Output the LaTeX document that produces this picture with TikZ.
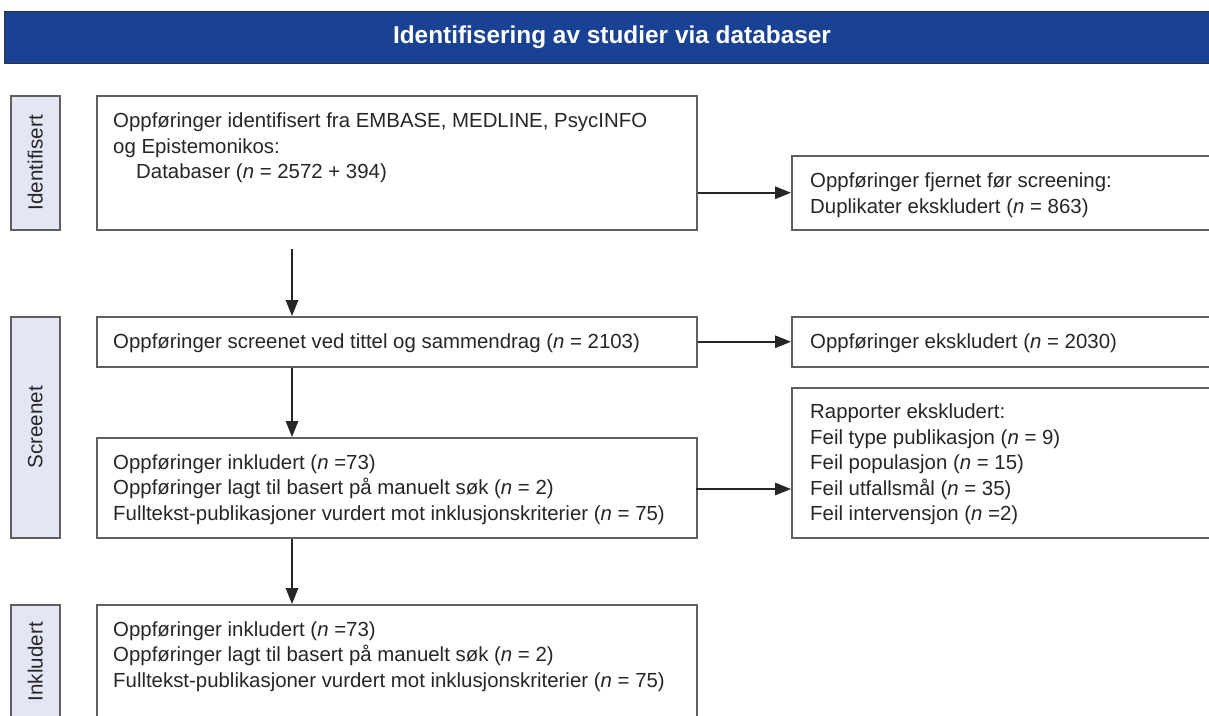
\documentclass[tikz,border=0pt]{standalone}
\usepackage{fontspec}
\setmainfont{Liberation Sans}
\usetikzlibrary{arrows.meta}
\definecolor{hdr}{RGB}{26,66,148}
\definecolor{sidefill}{RGB}{228,230,246}
\definecolor{edge}{RGB}{95,95,95}
\begin{document}
\begin{tikzpicture}[x=1pt,y=-1pt,
  box/.style={draw=edge,line width=1.5pt,fill=white,anchor=north west,inner sep=0pt},
  sidebox/.style={draw=edge,line width=1.5pt,fill=sidefill,anchor=north west,inner sep=0pt},
  txt/.style={align=left,inner sep=0pt,font=\fontsize{20.4}{25.5}\selectfont,text=black!85},
  sidetxt/.style={inner sep=0pt,rotate=90,font=\fontsize{20.6}{25.5}\selectfont,text=black!85},
  arr/.style={-{Triangle[length=16pt,width=12.5pt]},line width=1.5pt,draw=black!85}]
\useasboundingbox (0,0) rectangle (1209,715);
\clip (0,0) rectangle (1209,715);
% header
\node[draw=black!80,line width=1pt,fill=hdr,anchor=north west,minimum width=1230pt,minimum height=52pt,inner sep=0pt] (hdr) at (4,11) {};
\node[inner sep=0pt,text=white,font=\fontsize{24.4}{28}\selectfont\bfseries] (hdrtxt) at (612,37) {Identifisering av studier via databaser};
% side labels
\node[sidebox,minimum width=49pt,minimum height=134pt] (s1) at (10,95) {};
\node[sidetxt] (s1t) at (s1.center) {Identifisert};
\node[sidebox,minimum width=49pt,minimum height=221pt] (s2) at (10,316) {};
\node[sidetxt] (s2t) at (s2.center) {Screenet};
\node[sidebox,minimum width=49pt,minimum height=114pt] (s3) at (10,604) {};
\node[sidetxt] (s3t) at (s3.center) {Inkludert};
% left boxes
\node[box,minimum width=600pt,minimum height=134pt] (b1) at (96,95) {};
\node[txt,anchor=north west] (b1t) at (113,113) {Oppføringer identifisert fra EMBASE, MEDLINE, PsycINFO\\og Epistemonikos:\\\hspace*{23pt}Databaser (\textit{n} = 2572 + 394)};
\node[box,minimum width=600pt,minimum height=50pt] (b2) at (96,316) {};
\node[txt,anchor=west] (b2t) at (113,343) {Oppføringer screenet ved tittel og sammendrag (\textit{n} = 2103)};
\node[box,minimum width=600pt,minimum height=100pt] (b3) at (96,437) {};
\node[txt,anchor=west] (b3t) at (113,489.5) {Oppføringer inkludert (\textit{n} =73)\\Oppføringer lagt til basert på manuelt søk (\textit{n} = 2)\\Fulltekst-publikasjoner vurdert mot inklusjonskriterier (\textit{n} = 75)};
\node[box,minimum width=600pt,minimum height=130pt] (b4) at (96,604) {};
\node[txt,anchor=north west] (b4t) at (113,621.5) {Oppføringer inkludert (\textit{n} =73)\\Oppføringer lagt til basert på manuelt søk (\textit{n} = 2)\\Fulltekst-publikasjoner vurdert mot inklusjonskriterier (\textit{n} = 75)};
% right boxes
\node[box,minimum width=500pt,minimum height=74pt] (r1) at (791,155) {};
\node[txt,anchor=west] (r1t) at (810,195) {Oppføringer fjernet før screening:\\Duplikater ekskludert (\textit{n} = 863)};
\node[box,minimum width=500pt,minimum height=50pt] (r2) at (791,316) {};
\node[txt,anchor=west] (r2t) at (810,343) {Oppføringer ekskludert (\textit{n} = 2030)};
\node[box,minimum width=500pt,minimum height=150pt] (r3) at (791,387) {};
\node[txt,anchor=west] (r3t) at (810,464.5) {Rapporter ekskludert:\\Feil type publikasjon (\textit{n} = 9)\\Feil populasjon (\textit{n} = 15)\\Feil utfallsmål (\textit{n} = 35)\\Feil intervensjon (\textit{n} =2)};
% connectors
\coordinate (vx) at (292,249);
\draw[arr] (b1.east |- r1.west) -- (r1.west);
\draw[arr] (b2.east) -- (r2.west);
\coordinate (h3) at (696,489);
\draw[arr] (h3) -- (h3 -| r3.west);
\draw[arr] (vx) -- (vx |- b2.north);
\draw[arr] (vx |- b2.south) -- (vx |- b3.north);
\draw[arr] (vx |- b3.south) -- (vx |- b4.north);
\end{tikzpicture}
\end{document}
